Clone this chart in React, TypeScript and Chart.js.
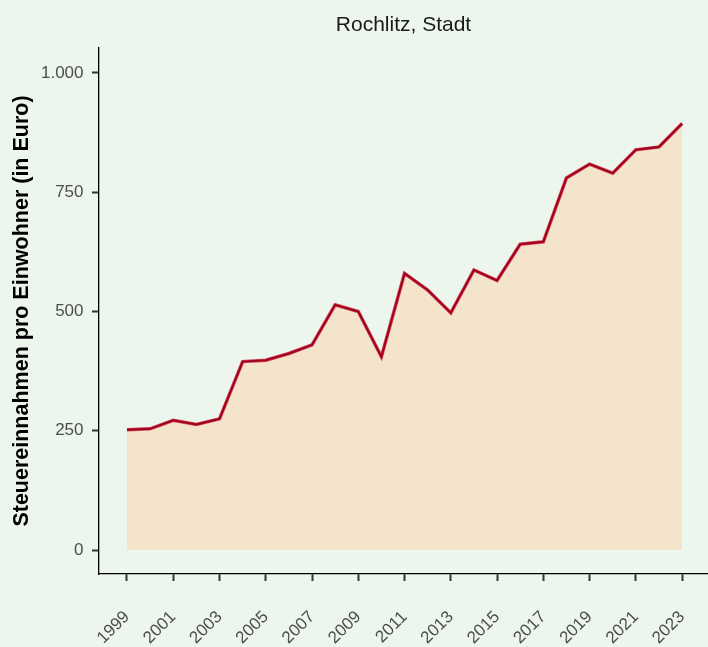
import React, { useEffect, useRef } from "react";
import { Chart, registerables } from "chart.js";

Chart.register(...registerables);

const years: number[] = [1999,2000,2001,2002,2003,2004,2005,2006,2007,2008,2009,2010,2011,2012,2013,2014,2015,2016,2017,2018,2019,2020,2021,2022,2023];
const values: number[] = [252,254,272,263,275,395,398,412,430,514,500,405,580,545,497,587,565,641,646,780,809,790,839,845,894];
const yTicks: number[] = [0, 250, 500, 750, 1000];
const xTicks: number[] = [1999,2001,2003,2005,2007,2009,2011,2013,2015,2017,2019,2021,2023];
const titleText = "Rochlitz, Stadt";
const yTitle = "Steuereinnahmen pro Einwohner (in Euro)";

const BG = "#EDF6EC";
const FONT = "'Liberation Sans', Arial, Helvetica, sans-serif";

function fmt(v: number): string {
  const s = String(Math.round(v));
  return s.replace(/\B(?=(\d{3})+(?!\d))/g, ".");
}

export default function App() {
  const ref = useRef<HTMLCanvasElement | null>(null);
  useEffect(() => {
    document.body.style.margin = "0";
    document.body.style.background = BG;
    const ctx = ref.current!.getContext("2d")!;
    const pts = years.map((y, i) => ({ x: y, y: values[i] }));
    const chart = new Chart(ctx, {
      type: "line",
      data: {
        datasets: [
          {
            data: pts,
            borderColor: "#A0001C",
            borderWidth: 2,
            backgroundColor: "rgba(0,0,0,0)",
            fill: false,
            pointRadius: 0,
            tension: 0,
          },
          {
            data: pts,
            borderColor: "#D0485E",
            borderWidth: 3.5,
            backgroundColor: "#F5E4CC",
            fill: "origin",
            pointRadius: 0,
            tension: 0,
          },
        ],
      },
      options: {
        responsive: false,
        animation: false,
        layout: { padding: { left: 0, right: 0, top: 0, bottom: 0 } },
        plugins: {
          legend: { display: false },
          tooltip: { enabled: false },
          title: {
            display: true,
            text: titleText,
            fullSize: false,
            color: "#1a1a1a",
            font: { family: FONT, size: 21, weight: "normal", lineHeight: 1.2 },
            padding: { top: 12.5, bottom: 10.3 },
          },
        },
        scales: {
          x: {
            type: "linear",
            min: 1997.79,
            max: 2024.12,
            afterBuildTicks: (s: any) => {
              s.ticks = xTicks.map((v) => ({ value: v }));
            },
            afterFit: (s: any) => {
              s.height = 73;
              s.paddingLeft = 0;
              s.paddingRight = 0;
            },
            ticks: {
              autoSkip: false,
              maxRotation: 45,
              minRotation: 45,
              color: "#4d4d4d",
              font: { family: FONT, size: 17 },
              padding: 26,
              callback: (v: any) => String(v),
            },
            grid: {
              drawOnChartArea: false,
              drawTicks: true,
              tickLength: 7,
              tickColor: "#333333",
              tickWidth: 2,
            },
            border: { display: true, color: "#000000", width: 1.3 },
          },
          y: {
            min: -50.3,
            max: 1052.4,
            afterBuildTicks: (s: any) => {
              s.ticks = yTicks.map((v) => ({ value: v }));
            },
            afterFit: (s: any) => {
              s.width = 99;
              s.paddingTop = 0;
              s.paddingBottom = 0;
            },
            ticks: {
              color: "#4d4d4d",
              font: { family: FONT, size: 17 },
              padding: 8.5,
              callback: (v: any) => fmt(Number(v)),
            },
            grid: {
              drawOnChartArea: false,
              drawTicks: true,
              tickLength: 7,
              tickColor: "#333333",
              tickWidth: 2,
            },
            border: { display: true, color: "#000000", width: 1.3 },
            title: {
              display: true,
              text: yTitle,
              color: "#000000",
              font: { family: FONT, size: 21.5, weight: "bold", lineHeight: 1.2 },
              padding: { top: 8.8, bottom: 0 },
            },
          },
        },
      },
    });
    return () => chart.destroy();
  }, []);
  return (
    <div style={{ width: 708, height: 647, background: BG }}>
      <canvas ref={ref} width={708} height={647} style={{ display: "block" }} />
    </div>
  );
}
